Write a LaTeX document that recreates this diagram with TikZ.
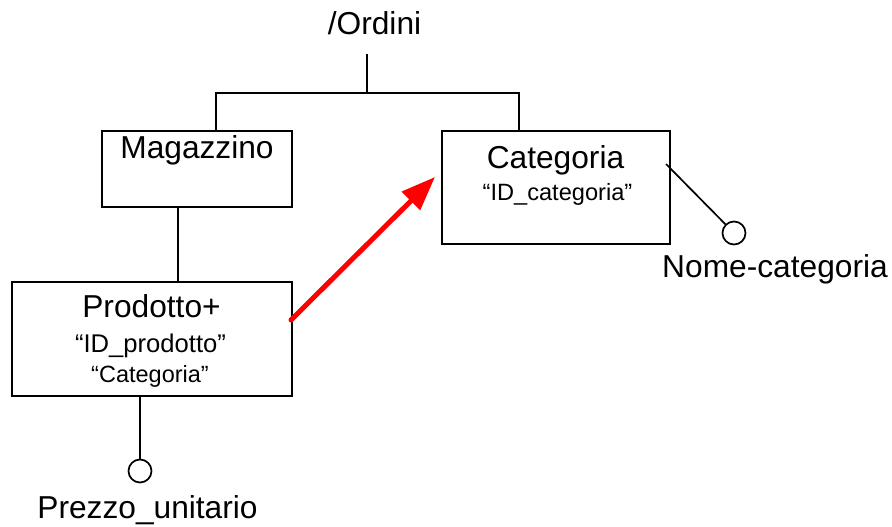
\documentclass[tikz,border=0pt]{standalone}
\usepackage{fontspec}
\setmainfont{Liberation Sans}
\usetikzlibrary{arrows.meta}
\begin{document}
\begin{tikzpicture}[x=1pt, y=-1pt,
  line/.style={draw=black, line width=1.7pt},
  entity/.style={line, rectangle, inner sep=0pt},
  bigtxt/.style={anchor=base, inner sep=0pt, font=\fontsize{31.7}{31.7}\selectfont},
  smalltxt/.style={anchor=base, inner sep=0pt, font=\fontsize{#1}{#1}\selectfont},
  smalltxt/.default=24,
  attr/.style={line, circle, inner sep=0pt, minimum size=23pt, fill=white},
  ref/.style={draw=red, line width=5pt, line cap=round, -{Triangle[length=34pt,width=25pt]}}
]
\useasboundingbox (0,0) rectangle (892,527);

% root of the hierarchy
\node[bigtxt] (ordini) at (374.5,35) {/Ordini};
\coordinate (stem) at (367,54);
\coordinate (fork) at (367,93);
\coordinate (forkL) at (216,93);
\coordinate (forkR) at (519,93);

% entity boxes
\node[entity, minimum width=190pt, minimum height=76pt] (mag) at (197,169) {};
\node[entity, minimum width=280pt, minimum height=114pt] (prod) at (152,339) {};
\node[entity, minimum width=228pt, minimum height=113pt] (cat) at (556,187.5) {};

% box contents
\node[bigtxt] (magname) at (197,158) {Magazzino};
\node[bigtxt] (prodname) at (151.5,317) {Prodotto+};
\node[smalltxt=25.6] (prodid) at (150.5,352) {“ID\_prodotto”};
\node[smalltxt=23.5] (prodcat) at (150,382) {“Categoria”};
\node[bigtxt] (catname) at (555.5,168) {Categoria};
\node[smalltxt=23.6] (catid) at (557.5,200) {“ID\_categoria”};

% attributes
\node[attr] (prezzo) at (140,471) {};
\node[bigtxt] (prezzolbl) at (147.5,518) {Prezzo\_unitario};
\node[attr] (nome) at (734,233) {};
\node[bigtxt] (nomelbl) at (775,277) {Nome-categoria};
\coordinate (catside) at (666,164);

% hierarchy connectors
\draw[line] (stem) -- (fork);
\draw[line] (forkL |- mag.north) -- (forkL) -- (forkR) -- (forkR |- cat.north);
\draw[line] (mag.south -| 178,0) -- (prod.north -| 178,0);

% attribute connectors
\draw[line] (prod.south -| prezzo) -- (prezzo.north);
\draw[line] (catside) -- (nome);

% reference arrow
\coordinate (refstart) at (291,320);
\coordinate (reftip) at (435,177);
\draw[ref] (refstart) -- (reftip);
\end{tikzpicture}
\end{document}
